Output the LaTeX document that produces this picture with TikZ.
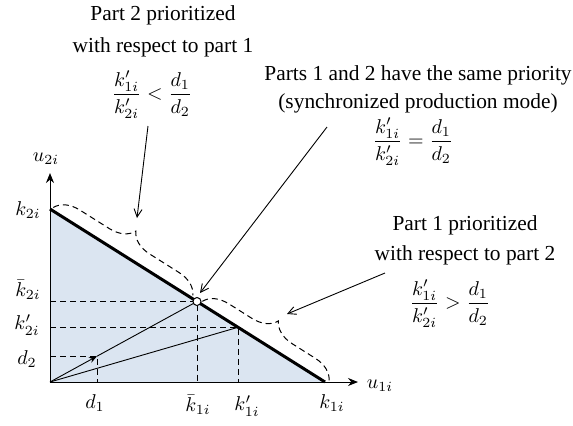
\documentclass[tikz,border=0pt]{standalone}
\usepackage{amsmath}
\usepackage{fontspec}
\setmainfont{Liberation Serif}
\usetikzlibrary{arrows.meta,decorations.pathreplacing}
\definecolor{regionblue}{RGB}{219,229,241}

\tikzset{
  axis/.style={line width=0.5pt,-{Stealth[length=5pt,width=4pt]}},
  guide/.style={line width=0.5pt,dash pattern=on 3pt off 2pt},
  ray/.style={line width=0.45pt},
  callout/.style={line width=0.45pt,-{Straight Barb[length=4pt,width=4pt]}},
  bracket/.style={line width=0.5pt,dash pattern=on 3pt off 2pt,decorate,decoration={brace,amplitude=12pt}},
  note/.style={align=center,inner sep=0pt,font=\fontsize{10.7pt}{13pt}\selectfont},
}

\begin{document}
\begin{tikzpicture}[x=0.5pt,y=-0.5pt]
\useasboundingbox (0,0) rectangle (573,425);
% corner points of the region
\coordinate (O) at (50,382);
\coordinate (K2) at (50,209);
\coordinate (K1) at (325,382);
\coordinate (P) at (197,301.5);
\coordinate (Q) at (238,327.3);
\coordinate (D) at (97,356.2);
\coordinate (yend) at (50,173);
\coordinate (xend) at (358,382);

\fill[regionblue] (O) -- (K2) -- (K1) -- cycle;

% dashed guides
\draw[guide] (O |- P) -- (P) -- (O -| P);
\draw[guide] (O |- Q) -- (Q) -- (O -| Q);
\draw[guide] (O |- D) -- (D) -- (O -| D);

% rays from origin
\draw[ray] (O) -- (Q);
\draw[ray,-{Stealth[length=4pt,width=3pt]}] (O) -- (D);
\draw[ray] (D) -- (P);

% axes
\draw[axis] (O) -- (yend);
\draw[axis] (O) -- (xend);
\draw[line width=1.5pt] (K2) -- (K1);
\node[circle,draw,line width=0.5pt,fill=white,inner sep=0pt,minimum size=4pt] (Pdot) at (P) {};

% axis labels
\node (u2) at (46,159) {$u_{2i}$};
\node (u1) at (380,386) {$u_{1i}$};
\node (lk2) at (28,210) {$k_{2i}$};
\node (lkb2) at (28,290) {$\bar{k}_{2i}$};
\node (lkp2) at (27,325) {$k'_{2i}$};
\node (ld2) at (27,359) {$d_2$};
\node (ld1) at (95,403) {$d_1$};
\node (lkb1) at (198,405) {$\bar{k}_{1i}$};
\node (lkp1) at (247,406) {$k'_{1i}$};
\node (lk1) at (332,403) {$k_{1i}$};

% dashed braces along the line
\draw[bracket] (53.3,207.5) -- (192.9,295.4);
\draw[bracket] (202.3,301.3) -- (329.2,381.2);

% texts
\node[note] (p2txt) at (163,31) {Part 2 prioritized\\[3pt] with respect to part 1};
\node (p2frac) at (152,95) {$\dfrac{k'_{1i}}{k'_{2i}} < \dfrac{d_1}{d_2}$};
\node[note] (samtxt) at (418,89) {Parts 1 and 2 have the same priority\\[1pt] (synchronized production mode)};
\node (samfrac) at (413,142) {$\dfrac{k'_{1i}}{k'_{2i}} = \dfrac{d_1}{d_2}$};
\node[note] (p1txt) at (465,240) {Part 1 prioritized\\[2pt] with respect to part 2};
\node (p1frac) at (450,304) {$\dfrac{k'_{1i}}{k'_{2i}} > \dfrac{d_1}{d_2}$};

% callout arrows
\coordinate (c1a) at (148,126);
\coordinate (c1b) at (137,218);
\coordinate (c2a) at (327,127);
\coordinate (c2b) at (200,293);
\coordinate (c3a) at (385,273);
\coordinate (c3b) at (287,314);
\draw[callout] (c1a) -- (c1b);
\draw[callout] (c2a) -- (c2b);
\draw[callout] (c3a) -- (c3b);
\end{tikzpicture}
\end{document}
